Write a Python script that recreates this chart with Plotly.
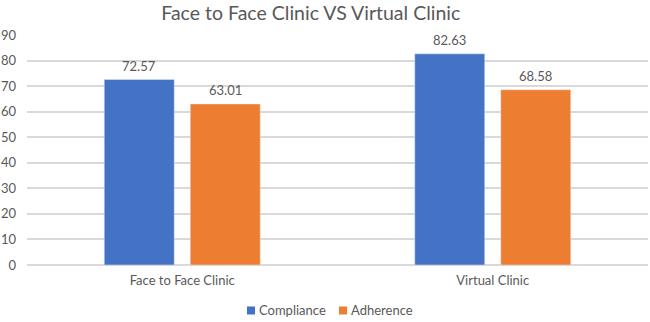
import plotly.graph_objects as go

categories = ["Face to Face Clinic", "Virtual Clinic"]
compliance = [72.57, 82.63]
adherence = [63.01, 68.58]
y_ticks = [0, 10, 20, 30, 40, 50, 60, 70, 80, 90]
series_names = ["Compliance", "Adherence"]
series_colors = ["#4472C4", "#ED7D31"]

font_family = "Lato, 'Open Sans', sans-serif"
gray = "#595959"

fig = go.Figure()
series_values = [compliance, adherence]
for name, vals, color in zip(series_names, series_values, series_colors):
    fig.add_trace(go.Bar(
        x=categories, y=vals, name=name,
        marker=dict(color=color),
        showlegend=False, hoverinfo="x+y+name",
    ))

# data labels above bars
for i, vals in enumerate(series_values):
    for cat, v in zip(categories, vals):
        fig.add_annotation(
            x=cat, y=v, xref="x", yref="y", text=f"{v:.2f}", showarrow=False,
            xshift=(i - 0.5) * 86, yshift=14, yanchor="middle",
            font=dict(color=gray, size=13, family=font_family),
        )

# legend (square swatch + text) below the axis, Excel style
legend_x = [0.3543, 0.5024]
for name, color, lx in zip(series_names, series_colors, legend_x):
    fig.add_shape(type="rect", xref="paper", yref="paper",
                  x0=lx, x1=lx + 0.0129, y0=-0.2152, y1=-0.1804,
                  fillcolor=color, line=dict(width=0))
    fig.add_annotation(x=lx + 0.0161, y=-0.1978, xref="paper", yref="paper",
                       text=name, showarrow=False, xanchor="left", yanchor="middle",
                       font=dict(color=gray, size=13, family=font_family))

fig.update_layout(
    width=650, height=322,
    margin=dict(l=27, r=2, t=35, b=57, autoexpand=False),
    paper_bgcolor="white", plot_bgcolor="white",
    barmode="group", bargap=0.446, bargroupgap=0.186,
    title=dict(text="Face to Face Clinic VS Virtual Clinic", x=0.457, xanchor="center",
               xref="paper", y=0.96, yanchor="middle",
               font=dict(size=19.5, color=gray, family=font_family)),
    font=dict(family=font_family, color=gray, size=12),
    showlegend=False,
)
fig.update_yaxes(range=[0, 90], tickvals=y_ticks, showgrid=True, gridcolor="#D9D9D9",
                 gridwidth=1.5, zeroline=True, zerolinecolor="#D9D9D9", zerolinewidth=1.5,
                 tickfont=dict(size=13, color=gray), ticks="", showline=False,
                 automargin=False, ticklabelstandoff=10)
fig.update_xaxes(showline=False, ticks="", tickfont=dict(size=13, color=gray),
                 automargin=False, ticklabelstandoff=6)

fig.write_html("out.html", config={"displayModeBar": False},
               post_script="document.body.style.margin='0';")
